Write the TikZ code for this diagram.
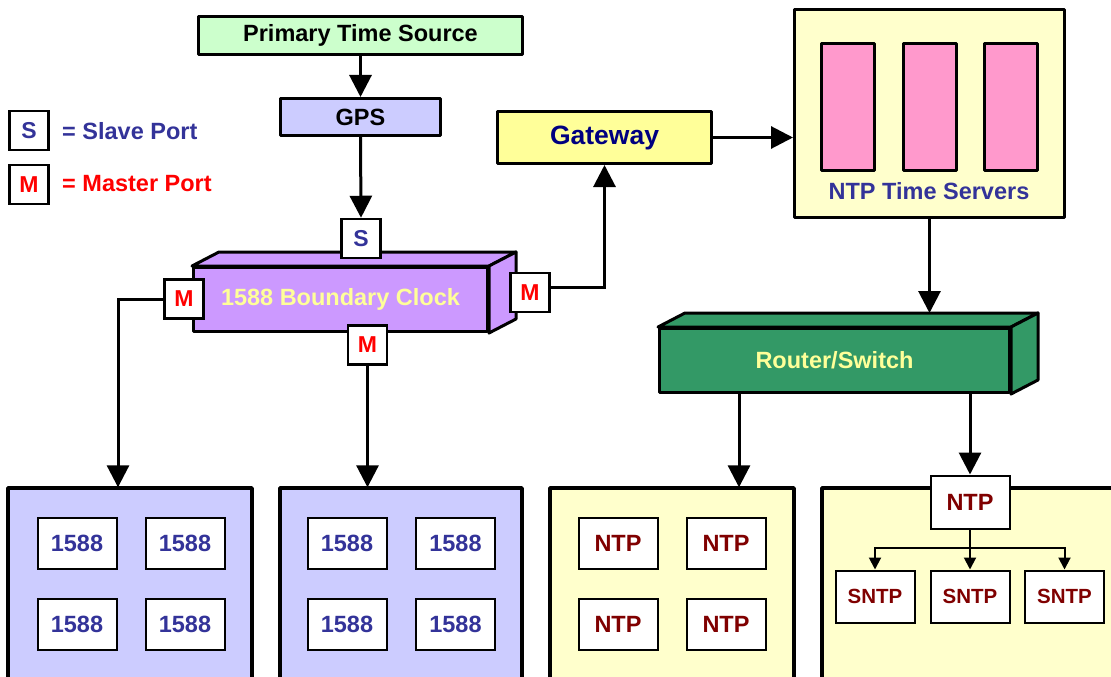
\documentclass[tikz,border=0pt]{standalone}
\usepackage{fontspec}
\setmainfont{Liberation Sans}
\usetikzlibrary{arrows.meta,calc}

\definecolor{ptsgreen}{HTML}{CCFFCC}
\definecolor{lav}{HTML}{CCCCFF}
\definecolor{bcpurple}{HTML}{CC99FF}
\definecolor{gwyellow}{HTML}{FFFF99}
\definecolor{paleyellow}{HTML}{FFFFCC}
\definecolor{pink}{HTML}{FF99CC}
\definecolor{rtgreen}{HTML}{339966}
\definecolor{txtblue}{HTML}{333399}
\definecolor{navy}{HTML}{000080}
\definecolor{ntpred}{HTML}{800000}
\definecolor{lighttxt}{HTML}{FFFF99}

\newcommand{\bigtxt}{\fontsize{23.5}{28}\selectfont\bfseries}
\newcommand{\smalltxt}{\fontsize{20.5}{24}\selectfont\bfseries}
\newcommand{\porttxt}{\fontsize{23}{26}\selectfont\bfseries}

\tikzset{
  box/.style={draw=black, line width=3pt, line join=round, inner sep=0pt,
              font=\bigtxt, align=center},
  inner/.style={draw=black, line width=2pt, fill=white, inner sep=0pt,
                minimum width=79pt, minimum height=51pt, font=\bigtxt},
  port/.style={draw=black, line width=2.5pt, fill=white, inner sep=0pt,
               minimum width=39pt, minimum height=39pt, font=\porttxt},
  panel/.style={draw=black, line width=3.5pt, line join=round},
  link/.style={line width=3pt, -{Triangle[length=22pt,width=22pt]}},
  thinlink/.style={line width=2pt, -{Triangle[length=12pt,width=12pt]}},
  face/.style={draw=black, line width=3pt, line join=round}
}

\begin{document}
\begin{tikzpicture}[x=1pt, y=-1pt]
\useasboundingbox (0,0) rectangle (1111,677);
\clip (0,0) rectangle (1111,677);
\fill[white] (0,0) rectangle (1111,677);

% Legend
\node[port, text=txtblue] (legS) at (29,130.5) {S};
\node[port, text=red] (legM) at (29,184.5) {M};
\node[anchor=west, font=\bigtxt, text=txtblue, inner sep=0pt] (legStxt) at (62,131) {= Slave Port};
\node[anchor=west, font=\bigtxt, text=red, inner sep=0pt] (legMtxt) at (62,184) {= Master Port};

% Time source chain
\node[box, fill=ptsgreen, minimum width=324pt, minimum height=38pt] (pts) at (360.5,35.5) {Primary Time Source};
\node[box, fill=lav, minimum width=160pt, minimum height=37pt] (gps) at (360.5,117) {GPS};

% Boundary clock (3D block)
\node[box, fill=bcpurple, minimum width=294pt, minimum height=64pt, text=lighttxt] (bc) at (340.5,299.5) {1588 Boundary Clock};
\draw[face, fill=bcpurple] (bc.north west) -- ++(27,-14) -- ([shift={(27,-14)}]bc.north east) -- (bc.north east) -- cycle;
\draw[face, fill=bcpurple] (bc.north east) -- ++(27,-14) -- ([shift={(27,-14)}]bc.south east) -- (bc.south east) -- cycle;

\node[port, text=txtblue] (pS) at (361,238.5) {S};
\node[port, text=red] (pML) at (184,299) {M};
\node[port, text=red] (pMR) at (530,292.5) {M};
\node[port, text=red] (pMB) at (367.5,345) {M};

% Gateway and NTP time servers
\node[box, fill=gwyellow, minimum width=214pt, minimum height=52pt, text=navy,
      font=\fontsize{26.5}{30}\selectfont\bfseries] (gw) at (604.5,137.5) {Gateway};
\node[box, fill=paleyellow, minimum width=270pt, minimum height=208pt] (srv) at (929.5,113.5) {};
\foreach \i/\x in {1/848, 2/929.5, 3/1010.5}
  \node[draw=black, line width=3pt, line join=round, fill=pink, minimum width=53pt, minimum height=127pt, inner sep=0pt] (rack\i) at (\x,107) {};
\node[font=\bigtxt, text=txtblue, inner sep=0pt] (srvlbl) at (929,191) {NTP Time Servers};

% Router / switch (3D block)
\draw[face, fill=rtgreen] (658,327) -- ++(27,-14) -- (1038,313) -- (1011,327) -- cycle;
\draw[face, fill=rtgreen] (1011,327) -- (1038,313) -- (1038,380) -- (1011,394) -- cycle;
\node[box, fill=rtgreen, minimum width=350pt, minimum height=64pt, text=lighttxt] (rtr) at (834.5,360.5) {Router/Switch};
\coordinate (rtrtop) at ([yshift=14pt]rtr.north);
\coordinate (rtrout) at ($(rtr.south west)+(81,0)$);

% Bottom panels
\draw[panel, fill=lav] (8,700) -- (8,488) -- (252,488) -- (252,700);
\node[inner sep=0pt, minimum width=244pt, minimum height=1pt] (p1) at (130,488) {};
\draw[panel, fill=lav] (280,700) -- (280,488) -- (522,488) -- (522,700);
\node[inner sep=0pt, minimum width=242pt, minimum height=1pt] (p2) at (401,488) {};
\draw[panel, fill=paleyellow] (550,700) -- (550,488) -- (794,488) -- (794,700);
\node[inner sep=0pt, minimum width=244pt, minimum height=1pt] (p3) at (672,488) {};
\draw[panel, fill=paleyellow] (822,700) -- (822,488) -- (1125,488) -- (1125,700);

\foreach \x/\n in {77/a, 185/b}{
  \node[inner, text=txtblue] (p1\n1) at (\x,543) {1588};
  \node[inner, text=txtblue] (p1\n2) at (\x,624) {1588};
}
\foreach \x/\n in {347/a, 455.5/b}{
  \node[inner, text=txtblue] (p2\n1) at (\x,543) {1588};
  \node[inner, text=txtblue] (p2\n2) at (\x,624) {1588};
}
\foreach \x/\n in {618/a, 726/b}{
  \node[inner, text=ntpred] (p3\n1) at (\x,543) {NTP};
  \node[inner, text=ntpred] (p3\n2) at (\x,624) {NTP};
}
\node[inner, text=ntpred, minimum height=53pt] (ntpT) at (970,502) {NTP};
\node[inner, text=ntpred, font=\smalltxt, minimum height=52pt] (sn1) at (875,596.5) {SNTP};
\node[inner, text=ntpred, font=\smalltxt, minimum height=52pt] (sn2) at (970,596.5) {SNTP};
\node[inner, text=ntpred, font=\smalltxt, minimum height=52pt] (sn3) at (1064.5,596.5) {SNTP};

% Connectors
\draw[link] (pts.south) -- (gps.north);
\draw[link] (gps.south) -- (pS.north);
\draw[link] (pML.west) -| ([xshift=-12pt]p1.north);
\draw[link] (pMB.south) -- (pMB.south |- p2.north);
\draw[link] ([yshift=5pt]pMR.east) -| (gw.south);
\draw[link] (gw.east) -- (gw.east -| srv.west);
\draw[link] (srv.south) -- (srv.south |- rtrtop);
\draw[link] (rtrout) -- (rtrout |- p3.north);
\draw[link] (ntpT.north |- rtr.south) -- (ntpT.north);

\coordinate (br) at ($(ntpT.south)+(0,18)$);
\draw[thinlink] (ntpT.south) -- (sn2.north);
\draw[thinlink] (br) -| (sn1.north);
\draw[thinlink] (br) -| (sn3.north);
\end{tikzpicture}
\end{document}
